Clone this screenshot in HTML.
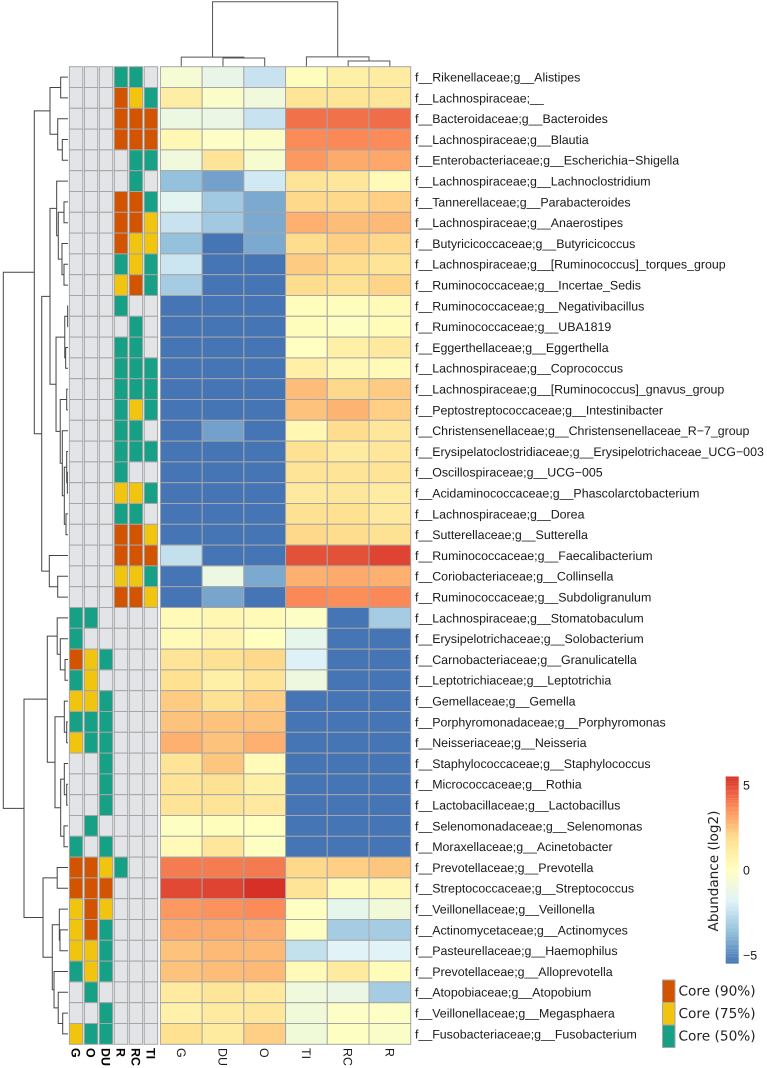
<!DOCTYPE html>
<html lang="en">
<head>
<meta charset="utf-8">
<title>Core microbiome heatmap</title>
<style>
html,body{margin:0;padding:0;background:#fff;width:767px;height:1068px;overflow:hidden}
svg{display:block}
text{font-family:"Liberation Sans",Arial,sans-serif;fill:#1a1a1a;text-rendering:geometricPrecision}
.dj{font-family:"DejaVu Sans",sans-serif;fill:#222}
</style>
</head>
<body>
<svg id="chart" xmlns="http://www.w3.org/2000/svg" width="767" height="1068" viewBox="0 0 767 1068">
  <g id="col-dendro"></g>
  <g id="row-dendro"></g>
  <g id="core-grid"></g>
  <g id="heat-grid"></g>
  <g id="row-labels"></g>
  <g id="col-labels"></g>
  <g id="colorbar"></g>
  <g id="core-legend"></g>
</svg>
<script>
const rowLabels = [
"f__Rikenellaceae;g__Alistipes","f__Lachnospiraceae;__","f__Bacteroidaceae;g__Bacteroides","f__Lachnospiraceae;g__Blautia",
"f__Enterobacteriaceae;g__Escherichia\u2212Shigella","f__Lachnospiraceae;g__Lachnoclostridium","f__Tannerellaceae;g__Parabacteroides",
"f__Lachnospiraceae;g__Anaerostipes","f__Butyricicoccaceae;g__Butyricicoccus","f__Lachnospiraceae;g__[Ruminococcus]_torques_group",
"f__Ruminococcaceae;g__Incertae_Sedis","f__Ruminococcaceae;g__Negativibacillus","f__Ruminococcaceae;g__UBA1819",
"f__Eggerthellaceae;g__Eggerthella","f__Lachnospiraceae;g__Coprococcus","f__Lachnospiraceae;g__[Ruminococcus]_gnavus_group",
"f__Peptostreptococcaceae;g__Intestinibacter","f__Christensenellaceae;g__Christensenellaceae_R\u22127_group",
"f__Erysipelatoclostridiaceae;g__Erysipelotrichaceae_UCG\u2212003","f__Oscillospiraceae;g__UCG\u2212005",
"f__Acidaminococcaceae;g__Phascolarctobacterium","f__Lachnospiraceae;g__Dorea","f__Sutterellaceae;g__Sutterella",
"f__Ruminococcaceae;g__Faecalibacterium","f__Coriobacteriaceae;g__Collinsella","f__Ruminococcaceae;g__Subdoligranulum",
"f__Lachnospiraceae;g__Stomatobaculum","f__Erysipelotrichaceae;g__Solobacterium","f__Carnobacteriaceae;g__Granulicatella",
"f__Leptotrichiaceae;g__Leptotrichia","f__Gemellaceae;g__Gemella","f__Porphyromonadaceae;g__Porphyromonas",
"f__Neisseriaceae;g__Neisseria","f__Staphylococcaceae;g__Staphylococcus","f__Micrococcaceae;g__Rothia",
"f__Lactobacillaceae;g__Lactobacillus","f__Selenomonadaceae;g__Selenomonas","f__Moraxellaceae;g__Acinetobacter",
"f__Prevotellaceae;g__Prevotella","f__Streptococcaceae;g__Streptococcus","f__Veillonellaceae;g__Veillonella",
"f__Actinomycetaceae;g__Actinomyces","f__Pasteurellaceae;g__Haemophilus","f__Prevotellaceae;g__Alloprevotella",
"f__Atopobiaceae;g__Atopobium","f__Veillonellaceae;g__Megasphaera","f__Fusobacteriaceae;g__Fusobacterium"];

const heatColumns = ["G","DU","O","TI","RC","R"];
const coreColumns = ["G","O","DU","R","RC","TI"];

const abundanceG = [-.6,1,-1.1,.4,-.9,-3.6,-1.6,-2.4,-3.6,-2.3,-3.2,
 -5.5,-5.5,-5.5,-5.5,-5.5,-5.5,-5.5,-5.5,-5.5,-5.5,-5.5,-5.5,
 -2.5,-5.5,-5.5,.3,.3,1.6,1.8,2.3,2.5,2.9,1.6,1.6,1.6,-.1,.3,
 4,5,3.4,3,2.5,2.5,1.2,.8,1.8];
const abundanceDU = [-1.3,-.3,-1.2,-.2,1.6,-4.4,-3.3,-3.3,-5.5,-5.5,-5.5,
 -5.5,-5.5,-5.5,-5.5,-5.5,-5.5,-4.4,-5.5,-5.5,-5.5,-5.5,-5.5,
 -5.5,-1.1,-4.3,.5,.6,1.7,.9,1.7,2.5,2.5,2.4,1.7,1.6,.1,1.4,
 4,5.1,3.55,3,2.7,2.6,1.5,1.2,1.2];
const abundanceO = [-2.4,-.9,-2.4,-.3,-.5,-2.2,-4.2,-4.2,-4.2,-5.5,-5.5,
 -5.5,-5.5,-5.5,-5.5,-5.5,-5.5,-5.5,-5.5,-5.5,-5.5,-5.5,-5.5,
 -5.5,-4.2,-5.5,.3,0,2,1.6,2.2,2.5,2.9,.3,.9,1.3,0,-.1,
 4.05,5.5,3.7,2.95,2.7,2.7,1.3,1.4,2.2];
const abundanceTI = [.1,1.5,4.2,3.7,3.4,1.6,2,2.9,1.9,2.3,1.9,
 .1,.1,-.05,.9,2.6,2.5,.5,1.7,1.6,1.3,1.7,2,
 4.85,2.9,3.75,-.2,-1.4,-1.9,-1,-5.5,-5.5,-5.5,-5.5,-5.5,-5.5,-5.5,-5.5,
 2,1.6,-.05,-.1,-2.5,.3,-.9,-.8,-.8];
const abundanceRC = [.9,1.5,4.2,3.75,3,1.4,2,2.6,2.2,1.9,1.7,
 .1,-.1,.9,.4,2,2.8,1.9,1.2,1.6,1.4,1.8,1.9,
 4.85,3,3.65,-5.5,-5.5,-5.5,-5.5,-5.5,-5.5,-5.5,-5.5,-5.5,-5.5,-5.5,-5.5,
 2.2,.3,-1.4,-3.2,-1.8,1.2,-1.2,-.2,-.1];
const abundanceR = [1.1,1.5,4.3,3.7,3.1,.3,2.2,2.7,2,1.6,2.1,
 .3,.2,1.3,.3,2.3,2.2,1.4,1.4,1.6,1.1,1.3,1.7,
 5.1,2.9,3.75,-3.2,-5.5,-5.5,-5.5,-5.5,-5.5,-5.5,-5.5,-5.5,-5.5,-5.5,-5.5,
 2.4,.4,-.8,-3.2,-1.8,.2,-3.2,-.2,-.3];

/* core level: 0 none, 1 = 50%, 2 = 75%, 3 = 90% */
const coreG = [0,0,0,0,0,0,0,0,0,0,0,0,0,0,0,0,0,0,0,0,0,0,0,0,0,0,
 1,1,3,1,2,1,2,0,0,0,0,1,3,3,2,2,2,1,0,0,2];
const coreO = [0,0,0,0,0,0,0,0,0,0,0,0,0,0,0,0,0,0,0,0,0,0,0,0,0,0,
 1,0,2,2,2,1,1,0,0,0,1,0,3,3,3,3,2,2,1,0,1];
const coreDU = [0,0,0,0,0,0,0,0,0,0,0,0,0,0,0,0,0,0,0,0,0,0,0,0,0,0,
 0,0,1,0,1,1,1,1,1,1,0,1,2,3,2,1,1,1,0,1,1];
const coreR = [1,3,3,3,0,0,3,3,3,1,2,1,0,1,1,1,1,1,1,1,2,1,3,3,2,3,
 0,0,0,0,0,0,0,0,0,0,0,0,1,0,0,0,0,0,0,0,0];
const coreRC = [1,2,3,3,1,1,3,3,2,2,3,0,1,1,1,1,2,1,1,0,2,1,3,3,2,3,
 0,0,0,0,0,0,0,0,0,0,0,0,0,0,0,0,0,0,0,0,0];
const coreTI = [0,1,3,3,1,0,1,2,2,1,1,0,0,0,1,1,1,0,1,0,1,0,2,3,1,2,
 0,0,0,0,0,0,0,0,0,0,0,0,0,0,0,0,0,0,0,0,0];

/* dendrogram merges: [height, left, right]; numbers are 1-based leaves */
const upperRowTree = [52.1,
 [27.8,[11.3,1,2],[15.9,3,[8.8,4,5]]],
 [40.6,
  [27.8,
   [17.5,6,[15,[6.2,7,8],[9.3,9,[6.2,10,11]]]],
   [18.5,
    [5,[.5,12,13],[3.6,14,15]],
    [12,[2,16,17],[8.8,18,[5.7,[2,19,[1,20,21]],[3.1,22,23]]]]]],
  [28.9,24,[15.9,25,26]]]];
const lowerRowTree = [68,
 [32,
  [16.7,27,[11.9,28,[4.6,29,30]]],
  [20.1,[5.7,31,[2,32,33]],[11.3,[5.7,34,[2,35,36]],[6.2,37,38]]]],
 [38.6,
  [16.7,39,40],
  [24.3,[13.4,41,[12.4,42,43]],[21.6,44,[15.1,45,[8.2,46,47]]]]]];
const rowTree = [100,upperRowTree,lowerRowTree];
const colTree = [100,[14.7,1,[13.4,2,3]],[15.2,4,[8.7,5,6]]];

const legendTicks = [5,0,-5];
const coreLegendLevels = [3,2,1];
const coreLegendLabels = ["Core (90%)","Core (75%)","Core (50%)"];

const NS = "http://www.w3.org/2000/svg";
const gridTop = 66.7, rowH = 20.8, heatLeft = 160.4, colW = 41.72;
const corePitch = 14.97, coreLeft = 69.4, coreW = 13.4;
const yRow = i => gridTop + rowH * i;
const yMid = leaf => gridTop + rowH * (leaf - 0.5);
const xHeat = j => heatLeft + colW * j;
const xCore = j => coreLeft + corePitch * j;
const hToX = h => 68 - h * 0.647;
const hToY = h => 66.7 - h * 0.65;
const vToLegendY = v => 870 - v * 17;

const ramp = [[69,117,180],[145,191,219],[224,243,248],[255,255,191],[254,224,144],[252,141,89],[215,48,39]];
function colour(v){
  const t = Math.max(0, Math.min(0.99999, (v + 5.5) / 11)) * (ramp.length - 1);
  const k = Math.floor(t), f = t - k;
  const c = ramp[k].map((a, n) => Math.round(a + (ramp[k + 1][n] - a) * f));
  return "rgb(" + c.join(",") + ")";
}
const coreFill = ["#e2e4e8","#16a085","#f1c40f","#d35400"];

function make(parent, tag, attrs, txt){
  const el = document.createElementNS(NS, tag);
  for (const k in attrs) el.setAttribute(k, attrs[k]);
  if (txt !== undefined) el.textContent = txt;
  parent.appendChild(el);
  return el;
}

/* heat cells */
const heatGrid = document.getElementById("heat-grid");
const abundanceColumns = [abundanceG, abundanceDU, abundanceO, abundanceTI, abundanceRC, abundanceR];
abundanceColumns.forEach((col, j) => col.forEach((v, i) => {
  const cell = make(heatGrid, "rect", {x:xHeat(j), y:yRow(i), width:colW, height:rowH, fill:colour(v), stroke:"#a6a6a6", "stroke-width":1});
  
  
}));

/* core cells */
const coreGrid = document.getElementById("core-grid");
const coreData = [coreG, coreO, coreDU, coreR, coreRC, coreTI];
coreData.forEach((col, j) => col.forEach((v, i) => {
  const cell = make(coreGrid, "rect", {x:xCore(j), y:yRow(i), width:coreW, height:rowH, fill:coreFill[v], stroke:"#a6a6a6", "stroke-width":1});
  
  
}));

/* row labels */
const rowLabelGroup = document.getElementById("row-labels");
rowLabels.forEach((s, i) => {
  const t = make(rowLabelGroup, "text", {x:415, y:yMid(i + 1) + 4.4, "font-size":12.4}, s);
  
  
});

/* column labels */
const colLabelGroup = document.getElementById("col-labels");
heatColumns.forEach((s, j) => {
  const cx = xHeat(j) + colW / 2;
  const t = make(colLabelGroup, "text", {transform:"translate(" + (cx - 4.5) + ",1048) rotate(90)", "font-size":12.4}, s);
  
  
});
coreColumns.forEach((s, j) => {
  const cx = xCore(j) + coreW / 2;
  const t = make(colLabelGroup, "text", {transform:"translate(" + (cx - 4.5) + ",1048) rotate(90)", "font-size":12.4, "font-weight":"bold", style:"fill:#000"}, s);
  
  
});

/* dendrograms */
function drawRowTree(node, g){
  if (typeof node === "number") return {y:yMid(node), x:68};
  const a = drawRowTree(node[1], g), b = drawRowTree(node[2], g);
  const x = hToX(node[0]);
  const p = make(g, "path", {d:"M"+a.x+" "+a.y+"H"+x+"V"+b.y+"H"+b.x, fill:"none", stroke:"#444", "stroke-width":1});
  
  
  return {y:(a.y + b.y) / 2, x:x};
}
drawRowTree(rowTree, document.getElementById("row-dendro"));

function drawColTree(node, g){
  if (typeof node === "number") return {x:xHeat(node - 1) + colW / 2, y:66.7};
  const a = drawColTree(node[1], g), b = drawColTree(node[2], g);
  const y = hToY(node[0]);
  const p = make(g, "path", {d:"M"+a.x+" "+a.y+"V"+y+"H"+b.x+"V"+b.y, fill:"none", stroke:"#555", "stroke-width":1});
  
  
  return {x:(a.x + b.x) / 2, y:y};
}
drawColTree(colTree, document.getElementById("col-dendro"));

/* colour bar */
const bar = document.getElementById("colorbar");
for (let k = 0; k < 110; k++){
  const v0 = 5.5 - k * 0.1;
  const seg = make(bar, "rect", {x:725.7, y:vToLegendY(v0), width:13, height:1.8, fill:colour(v0 - 0.05)});
  
  
}
legendTicks.forEach(v => {
  const t = make(bar, "text", {x:743, y:vToLegendY(v) + 4.4, "font-size":12.4}, v < 0 ? "\u2212" + (-v) : String(v));
  
  
});
const barTitle = make(bar, "text", {class:"dj", transform:"translate(718,871) rotate(-90)", "text-anchor":"middle", "font-size":13.6}, "Abundance (log2)");



/* core legend */
const legend = document.getElementById("core-legend");
coreLegendLevels.forEach((lvl, i) => {
  const top = 980 + i * 22.5;
  const sw = make(legend, "rect", {x:662.5, y:top, width:12.5, height:22.5, fill:coreFill[lvl], stroke:"#a6a6a6", "stroke-width":1});
  
  
  const t = make(legend, "text", {class:"dj", x:678.5, y:top + 15.5, "font-size":13.7}, coreLegendLabels[i]);
  
  
});
</script>
</body>
</html>
